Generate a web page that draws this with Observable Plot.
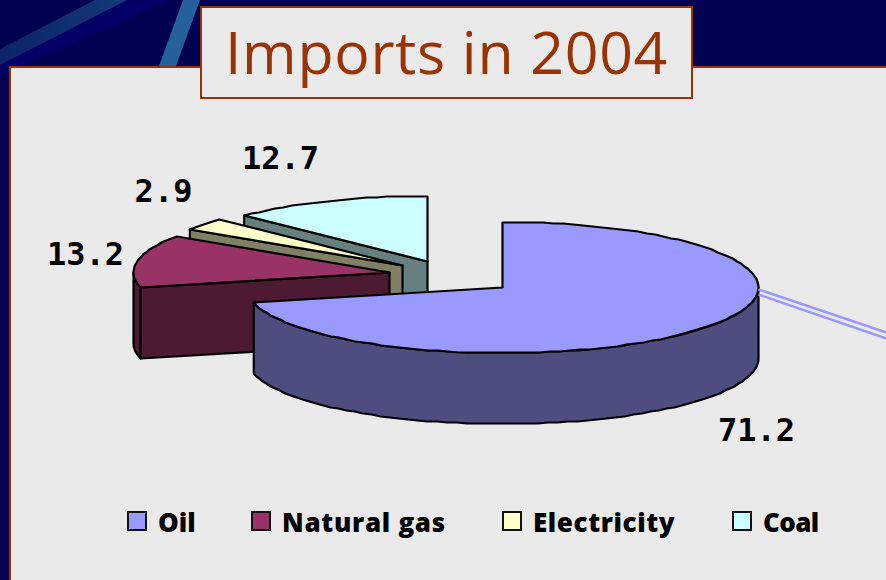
<!DOCTYPE html>
<html>
<head>
<meta charset="utf-8">
<title>Imports in 2004</title>
<script src="https://cdn.jsdelivr.net/npm/d3@7"></script>
<script src="https://cdn.jsdelivr.net/npm/@observablehq/plot@0.6"></script>
<style>
  html, body { margin: 0; padding: 0; width: 886px; height: 580px; overflow: hidden; background: #000052; }
  #stage { position: relative; width: 886px; height: 580px; overflow: hidden; }
  .deco { position: absolute; inset: 0; }
  #band { background: #000066; clip-path: polygon(127px 0, 170px 0, 0 76px, 0 65px); }
  #streak1 { background: linear-gradient(90deg, #0a2468, #163a78 130px); clip-path: polygon(0 49px, 95px 0, 127px 0, 0 65px); }
  #streak2 { background: #24609c; clip-path: polygon(159px 66px, 183px 0, 200px 0, 176px 66px); }
  #panel { position: absolute; left: 9px; top: 66px; width: 900px; height: 540px; box-sizing: border-box; background: #eaeaea; border: 2px solid #993300; }
  #title { position: absolute; left: 200px; top: 6px; width: 493px; height: 93px; box-sizing: border-box; background: #eaeaea; border: 2px solid #993300;
           color: #993300; font: 500 59px "Open Sans", sans-serif; line-height: 87px; text-align: center; letter-spacing: 0.7px; white-space: nowrap; }
  #chart { position: absolute; left: 0; top: 0; }
  #legend { position: absolute; left: 0; top: 0; }
  .swatch { position: absolute; top: 511px; width: 20px; height: 20px; box-sizing: border-box; border: 2px solid #111; }
  .entry { position: absolute; top: 504px; font: 800 26px "Open Sans", sans-serif; line-height: 36px; color: #000; white-space: nowrap; }
</style>
</head>
<body>
<div id="stage">
  <div class="deco" id="band"></div>
  <div class="deco" id="streak1"></div>
  <div class="deco" id="streak2"></div>
  <div id="panel"></div>
  <div id="chart"></div>
  <div id="title">Imports in 2004</div>
  <div id="legend"></div>
</div>
<script>
// Data
const categories = ["Oil", "Natural gas", "Electricity", "Coal"];
const shares = [71.2, 13.2, 2.9, 12.7];
const topColors = ["#9999ff", "#993366", "#ffffcc", "#ccffff"];
const wallColors = ["#4d4d80", "#4d1933", "#808066", "#668080"];

// Layout of the exploded 3D pie (separate from the data)
const centerX = [502, 389, 402, 427];
const centerY = [287, 272, 265, 261];
const radiusX = 256, radiusY = 65.5, depth = 71;
const labelX = [756, 85, 163, 280];
const labelY = [430, 254, 191, 158];
const legendSwatchX = [127, 251, 502, 732];
const legendTextX = [158, 282, 533, 763];
const legendSpacing = [0, 0.7, 0.6, -0.6];

const total = d3.sum(shares);
const cumulative = d3.cumsum(shares);
const startAngle = i => (i === 0 ? 0 : cumulative[i - 1]) / total * 2 * Math.PI;
const endAngle = i => cumulative[i] / total * 2 * Math.PI;
const rim = (i, a, drop = 0) => ({x: centerX[i] + radiusX * Math.sin(a), y: Math.round(centerY[i] - radiusY * Math.cos(a)) + drop});
const apex = (i, drop = 0) => ({x: centerX[i], y: centerY[i] + drop});
const arc = (i, a0, a1, drop = 0) => {
  const n = Math.max(2, Math.ceil(Math.abs(a1 - a0) / 0.04));
  return d3.range(n + 1).map(k => rim(i, a0 + (a1 - a0) * k / n, drop));
};
const closed = pts => [...pts, pts[0]];

const topFace = i => closed([apex(i), ...arc(i, startAngle(i), endAngle(i))]);
const cutWall = i => closed([rim(i, startAngle(i)), apex(i), apex(i, depth), rim(i, startAngle(i), depth)]);
const outerWall = (i, a0, a1) => closed([...arc(i, a0, a1), ...arc(i, a1, a0, depth)]);

const faces = [
  {points: cutWall(3), fill: wallColors[3]},
  {points: topFace(3), fill: topColors[3]},
  {points: cutWall(2), fill: wallColors[2]},
  {points: topFace(2), fill: topColors[2]},
  {points: outerWall(1, startAngle(1), 1.5 * Math.PI), fill: wallColors[1]},
  {points: cutWall(1), fill: wallColors[1]},
  {points: topFace(1), fill: topColors[1]},
  {points: outerWall(0, 0.5 * Math.PI, endAngle(0)), fill: wallColors[0]},
  {points: topFace(0), fill: topColors[0]}
];

const leaders = [
  {x1: 758, y1: 289, x2: 886, y2: 332},
  {x1: 758, y1: 294, x2: 886, y2: 338}
];

const labels = shares.map((v, i) => ({value: v.toFixed(1), x: labelX[i], y: labelY[i]}));

const chart = Plot.plot({
  width: 886,
  height: 580,
  margin: 0,
  style: {background: "transparent"},
  x: {axis: null, domain: [0, 886], range: [0, 886]},
  y: {axis: null, domain: [0, 580], range: [0, 580]},
  marks: [
    ...faces.map(f => Plot.line(f.points, {
      x: "x", y: "y", fill: f.fill, stroke: "#000", strokeWidth: 2.2, strokeLinejoin: "round"
    })),
    Plot.link(leaders, {x1: "x1", y1: "y1", x2: "x2", y2: "y2", stroke: "#9999ff", strokeWidth: 2.5}),
    Plot.text(labels, {
      x: "x", y: "y", text: "value", fill: "#000", fontSize: 32,
      fontWeight: 700, fontFamily: "DejaVu Sans Mono"
    })
  ]
});
document.getElementById("chart").append(chart);

const legend = d3.select("#legend");
categories.forEach((name, i) => {
  legend.append("div").attr("class", "swatch").style("left", legendSwatchX[i] + "px").style("background", topColors[i]);
  legend.append("div").attr("class", "entry").style("left", legendTextX[i] + "px").style("letter-spacing", legendSpacing[i] + "px").text(name);
});
</script>
</body>
</html>
